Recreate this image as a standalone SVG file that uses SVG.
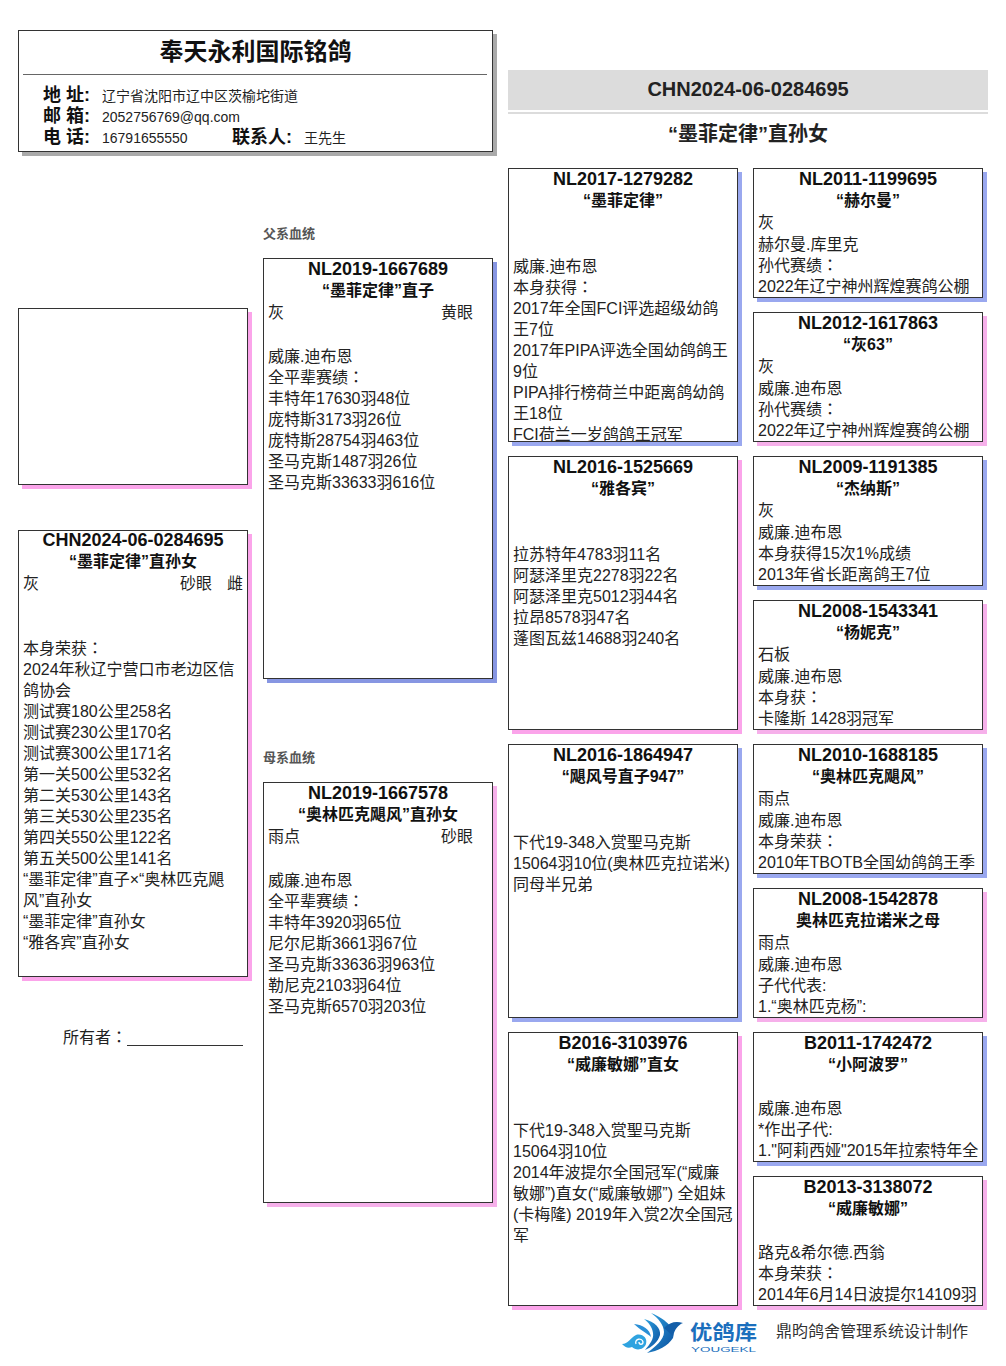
<svg xmlns="http://www.w3.org/2000/svg" width="1006" height="1366" viewBox="0 0 1006 1366">
<style>
text{font-family:"Liberation Sans","Noto Sans CJK SC",sans-serif;fill:#222}
.c{font-family:"Noto Sans CJK TC",sans-serif}
.box{fill:#fff;stroke:#333;stroke-width:1}
.blue{fill:#9aa8ef}.blue2{fill:#8796e2}.pink{fill:#f6b0ea}.pink2{fill:#fba4ea}.gray{fill:#aaa}
.id{font-size:18px;font-weight:700;text-anchor:middle;fill:#111}
.nm{font-size:16px;font-weight:700;text-anchor:middle;fill:#111}
.t{font-size:16px}
.lb{font-size:18px;font-weight:700;fill:#111}
.s{font-size:14px}
.sec{font-size:13px;font-weight:700;fill:#555}
</style>
<defs>
<clipPath id="c1"><rect x="509" y="169" width="228" height="272"/></clipPath>
<clipPath id="c2"><rect x="754" y="169" width="229" height="128"/></clipPath>
<clipPath id="c3"><rect x="754" y="313" width="229" height="128"/></clipPath>
<clipPath id="c4"><rect x="754" y="457" width="229" height="128"/></clipPath>
<clipPath id="c5"><rect x="754" y="601" width="229" height="128"/></clipPath>
<clipPath id="c6"><rect x="754" y="745" width="229" height="128"/></clipPath>
<clipPath id="c7"><rect x="754" y="889" width="229" height="128"/></clipPath>
<clipPath id="c8"><rect x="754" y="1033" width="229" height="128"/></clipPath>
<clipPath id="c9"><rect x="754" y="1177" width="229" height="128"/></clipPath>
<linearGradient id="lg" x1="0" y1="0" x2="1" y2="1"><stop offset="0" stop-color="#2fa3e0"/><stop offset="1" stop-color="#0b4f9e"/></linearGradient>
</defs>

<g id="header">
<rect class="gray" x="22" y="34" width="475" height="122"/>
<rect class="box" x="18.500" y="30.500" width="474" height="121"/>
<text x="255.500" y="60" text-anchor="middle" font-size="24" font-weight="700" style="fill:#111">奉天永利国际铭鸽</text>
<rect x="23" y="74" width="464" height="1" fill="#666"/>
<text class="lb" x="43" y="101">地 址:</text><text class="s" x="102" y="101">辽宁省沈阳市辽中区茨榆坨街道</text>
<text class="lb" x="43" y="122">邮 箱:</text><text class="s" x="102" y="122">2052756769@qq.com</text>
<text class="lb" x="43" y="143">电 话:</text><text class="s" x="102" y="143">16791655550</text>
<text class="lb" x="232" y="143">联系人:</text><text class="s" x="304" y="143">王先生</text>
</g>

<g id="banner">
<rect x="508" y="70" width="480" height="40" fill="#dcdcdc"/>
<rect x="508" y="112" width="480" height="2" fill="#dcdcdc"/>
<text x="748" y="96" text-anchor="middle" font-size="20" font-weight="700" style="fill:#222">CHN2024-06-0284695</text>
<text x="748" y="141" text-anchor="middle" font-size="20" font-weight="700" style="fill:#222">“墨菲定律”直孙女</text>
</g>

<g id="photo">
<rect class="pink2" x="22" y="312" width="230" height="177"/>
<rect class="box" x="18.500" y="308.500" width="229" height="176"/>
</g>

<g id="main">
<rect class="pink2" x="22" y="534" width="230" height="447"/>
<rect class="box" x="18.500" y="530.500" width="229" height="446"/>
<text class="id" x="133" y="546">CHN2024-06-0284695</text>
<text class="nm" x="133" y="567">“墨菲定律”直孙女</text>
<text class="t" x="23" y="589">灰</text><text class="t" x="180" y="589">砂眼</text><text class="t" x="227" y="589">雌</text>
<text class="t" x="23" y="654">本身荣获<tspan class="c">：</tspan></text>
<text class="t" x="23" y="675">2024年秋辽宁营口市老边区信</text>
<text class="t" x="23" y="696">鸽协会</text>
<text class="t" x="23" y="717">测试赛180公里258名</text>
<text class="t" x="23" y="738">测试赛230公里170名</text>
<text class="t" x="23" y="759">测试赛300公里171名</text>
<text class="t" x="23" y="780">第一关500公里532名</text>
<text class="t" x="23" y="801">第二关530公里143名</text>
<text class="t" x="23" y="822">第三关530公里235名</text>
<text class="t" x="23" y="843">第四关550公里122名</text>
<text class="t" x="23" y="864">第五关500公里141名</text>
<text class="t" x="23" y="885">“墨菲定律”直子×“奥林匹克飓</text>
<text class="t" x="23" y="906">风”直孙女</text>
<text class="t" x="23" y="927">“墨菲定律”直孙女</text>
<text class="t" x="23" y="948">“雅各宾”直孙女</text>
</g>

<g id="owner">
<text class="t" x="63" y="1043">所有者<tspan class="c">：</tspan></text>
<rect x="127" y="1045" width="116" height="1" fill="#333"/>
</g>

<text class="sec" x="263" y="238">父系血统</text>
<text class="sec" x="263" y="762">母系血统</text>

<g id="father">
<rect class="blue2" x="267" y="262" width="230" height="421"/>
<rect class="box" x="263.500" y="258.500" width="229" height="420"/>
<text class="id" x="378" y="275">NL2019-1667689</text>
<text class="nm" x="378" y="296">“墨菲定律”直子</text>
<text class="t" x="268" y="318">灰</text><text class="t" x="441" y="318">黄眼</text>
<text class="t" x="268" y="362">威廉.迪布恩</text>
<text class="t" x="268" y="383">全平辈赛绩<tspan class="c">：</tspan></text>
<text class="t" x="268" y="404">丰特年17630羽48位</text>
<text class="t" x="268" y="425">庞特斯3173羽26位</text>
<text class="t" x="268" y="446">庞特斯28754羽463位</text>
<text class="t" x="268" y="467">圣马克斯1487羽26位</text>
<text class="t" x="268" y="488">圣马克斯33633羽616位</text>
</g>

<g id="mother">
<rect class="pink" x="267" y="786" width="230" height="421"/>
<rect class="box" x="263.500" y="782.500" width="229" height="420"/>
<text class="id" x="378" y="799">NL2019-1667578</text>
<text class="nm" x="378" y="820">“奥林匹克飓风”直孙女</text>
<text class="t" x="268" y="842">雨点</text><text class="t" x="441" y="842">砂眼</text>
<text class="t" x="268" y="886">威廉.迪布恩</text>
<text class="t" x="268" y="907">全平辈赛绩<tspan class="c">：</tspan></text>
<text class="t" x="268" y="928">丰特年3920羽65位</text>
<text class="t" x="268" y="949">尼尔尼斯3661羽67位</text>
<text class="t" x="268" y="970">圣马克斯33636羽963位</text>
<text class="t" x="268" y="991">勒尼克2103羽64位</text>
<text class="t" x="268" y="1012">圣马克斯6570羽203位</text>
</g>

<g id="ff">
<rect class="blue" x="512" y="172" width="230" height="274"/>
<rect class="box" x="508.500" y="168.500" width="229" height="273"/>
<g clip-path="url(#c1)">
<text class="id" x="623" y="185">NL2017-1279282</text>
<text class="nm" x="623" y="206">“墨菲定律”</text>
<text class="t" x="513" y="272">威廉.迪布恩</text>
<text class="t" x="513" y="293">本身获得<tspan class="c">：</tspan></text>
<text class="t" x="513" y="314">2017年全国FCI评选超级幼鸽</text>
<text class="t" x="513" y="335">王7位</text>
<text class="t" x="513" y="356">2017年PIPA评选全国幼鸽鸽王</text>
<text class="t" x="513" y="377">9位</text>
<text class="t" x="513" y="398">PIPA排行榜荷兰中距离鸽幼鸽</text>
<text class="t" x="513" y="419">王18位</text>
<text class="t" x="513" y="440">FCI荷兰一岁鸽鸽王冠军</text>
</g></g>

<g id="fm">
<rect class="pink2" x="512" y="460" width="230" height="274"/>
<rect class="box" x="508.500" y="456.500" width="229" height="273"/>
<text class="id" x="623" y="473">NL2016-1525669</text>
<text class="nm" x="623" y="494">“雅各宾”</text>
<text class="t" x="513" y="560">拉苏特年4783羽11名</text>
<text class="t" x="513" y="581">阿瑟泽里克2278羽22名</text>
<text class="t" x="513" y="602">阿瑟泽里克5012羽44名</text>
<text class="t" x="513" y="623">拉昂8578羽47名</text>
<text class="t" x="513" y="644">蓬图瓦兹14688羽240名</text>
</g>

<g id="mf">
<rect class="blue" x="512" y="748" width="230" height="274"/>
<rect class="box" x="508.500" y="744.500" width="229" height="273"/>
<text class="id" x="623" y="761">NL2016-1864947</text>
<text class="nm" x="623" y="782">“飓风号直子947”</text>
<text class="t" x="513" y="848">下代19-348入赏聖马克斯</text>
<text class="t" x="513" y="869">15064羽10位(奥林匹克拉诺米)</text>
<text class="t" x="513" y="890">同母半兄弟</text>
</g>

<g id="mm">
<rect class="pink2" x="512" y="1036" width="230" height="274"/>
<rect class="box" x="508.500" y="1032.500" width="229" height="273"/>
<text class="id" x="623" y="1049">B2016-3103976</text>
<text class="nm" x="623" y="1070">“威廉敏娜”直女</text>
<text class="t" x="513" y="1136">下代19-348入赏聖马克斯</text>
<text class="t" x="513" y="1157">15064羽10位</text>
<text class="t" x="513" y="1178">2014年波提尔全国冠军(“威廉</text>
<text class="t" x="513" y="1199">敏娜”)直女(“威廉敏娜”) 全姐妹</text>
<text class="t" x="513" y="1220">(卡梅隆) 2019年入赏2次全国冠</text>
<text class="t" x="513" y="1241">军</text>
</g>

<g id="fff">
<rect class="blue" x="757" y="172" width="230" height="130"/>
<rect class="box" x="753.500" y="168.500" width="229" height="129"/>
<g clip-path="url(#c2)">
<text class="id" x="868" y="185">NL2011-1199695</text>
<text class="nm" x="868" y="206">“赫尔曼”</text>
<text class="t" x="758" y="228">灰</text>
<text class="t" x="758" y="250">赫尔曼.库里克</text>
<text class="t" x="758" y="271">孙代赛绩<tspan class="c">：</tspan></text>
<text class="t" x="758" y="292">2022年辽宁神州辉煌赛鸽公棚</text>
</g></g>

<g id="ffm">
<rect class="pink" x="757" y="316" width="230" height="130"/>
<rect class="box" x="753.500" y="312.500" width="229" height="129"/>
<g clip-path="url(#c3)">
<text class="id" x="868" y="329">NL2012-1617863</text>
<text class="nm" x="868" y="350">“灰63”</text>
<text class="t" x="758" y="372">灰</text>
<text class="t" x="758" y="394">威廉.迪布恩</text>
<text class="t" x="758" y="415">孙代赛绩<tspan class="c">：</tspan></text>
<text class="t" x="758" y="436">2022年辽宁神州辉煌赛鸽公棚</text>
</g></g>

<g id="fmf">
<rect class="blue" x="757" y="460" width="230" height="130"/>
<rect class="box" x="753.500" y="456.500" width="229" height="129"/>
<g clip-path="url(#c4)">
<text class="id" x="868" y="473">NL2009-1191385</text>
<text class="nm" x="868" y="494">“杰纳斯”</text>
<text class="t" x="758" y="516">灰</text>
<text class="t" x="758" y="538">威廉.迪布恩</text>
<text class="t" x="758" y="559">本身获得15次1%成绩</text>
<text class="t" x="758" y="580">2013年省长距离鸽王7位</text>
</g></g>

<g id="fmm">
<rect class="pink" x="757" y="604" width="230" height="130"/>
<rect class="box" x="753.500" y="600.500" width="229" height="129"/>
<g clip-path="url(#c5)">
<text class="id" x="868" y="617">NL2008-1543341</text>
<text class="nm" x="868" y="638">“杨妮克”</text>
<text class="t" x="758" y="660">石板</text>
<text class="t" x="758" y="682">威廉.迪布恩</text>
<text class="t" x="758" y="703">本身获<tspan class="c">：</tspan></text>
<text class="t" x="758" y="724">卡隆斯 1428羽冠军</text>
</g></g>

<g id="mff">
<rect class="blue" x="757" y="748" width="230" height="130"/>
<rect class="box" x="753.500" y="744.500" width="229" height="129"/>
<g clip-path="url(#c6)">
<text class="id" x="868" y="761">NL2010-1688185</text>
<text class="nm" x="868" y="782">“奥林匹克飓风”</text>
<text class="t" x="758" y="804">雨点</text>
<text class="t" x="758" y="826">威廉.迪布恩</text>
<text class="t" x="758" y="847">本身荣获<tspan class="c">：</tspan></text>
<text class="t" x="758" y="868">2010年TBOTB全国幼鸽鸽王季</text>
</g></g>

<g id="mfm">
<rect class="pink" x="757" y="892" width="230" height="130"/>
<rect class="box" x="753.500" y="888.500" width="229" height="129"/>
<g clip-path="url(#c7)">
<text class="id" x="868" y="905">NL2008-1542878</text>
<text class="nm" x="868" y="926">奥林匹克拉诺米之母</text>
<text class="t" x="758" y="948">雨点</text>
<text class="t" x="758" y="970">威廉.迪布恩</text>
<text class="t" x="758" y="991">子代代表:</text>
<text class="t" x="758" y="1012">1.“奥林匹克杨”:</text>
</g></g>

<g id="mmf">
<rect class="blue" x="757" y="1036" width="230" height="130"/>
<rect class="box" x="753.500" y="1032.500" width="229" height="129"/>
<g clip-path="url(#c8)">
<text class="id" x="868" y="1049">B2011-1742472</text>
<text class="nm" x="868" y="1070">“小阿波罗”</text>
<text class="t" x="758" y="1114">威廉.迪布恩</text>
<text class="t" x="758" y="1135">*作出子代:</text>
<text class="t" x="758" y="1156">1."阿莉西娅"2015年拉索特年全</text>
</g></g>

<g id="mmm">
<rect class="pink" x="757" y="1180" width="230" height="130"/>
<rect class="box" x="753.500" y="1176.500" width="229" height="129"/>
<g clip-path="url(#c9)">
<text class="id" x="868" y="1193">B2013-3138072</text>
<text class="nm" x="868" y="1214">“威廉敏娜”</text>
<text class="t" x="758" y="1258">路克&amp;希尔德.西翁</text>
<text class="t" x="758" y="1279">本身荣获<tspan class="c">：</tspan></text>
<text class="t" x="758" y="1300">2014年6月14日波提尔14109羽</text>
</g></g>

<g id="logo">
<path d="M651 1313 C668 1320 676 1330 673 1338 C668 1346 658 1351 647 1353 C655 1347 664 1340 664 1332 C664 1325 658 1318 651 1313Z" fill="url(#lg)"/>
<path d="M664 1328 C670 1322 676 1321 683 1323 C678 1325 675 1329 673 1336Z" fill="#135ea8"/>
<path d="M644 1319 C655 1322 661 1328 660 1335 C658 1342 652 1347 645 1350 C650 1344 654 1339 653 1333 C652 1327 649 1323 644 1319Z" fill="url(#lg)"/>
<path d="M634 1324 C643 1325 650 1329 651 1337 C647 1333 640 1330 634 1324Z" fill="#2a8fd6"/>
<path d="M622 1344 C628 1344 630 1338 636 1335 C642 1333 648 1338 646 1344 C644 1350 636 1351 632 1347 C628 1349 625 1347 622 1344Z" fill="#2fa3e0"/>
<path d="M636 1344 C634 1339 642 1337 643 1342 C643 1345 639 1345 639 1342" fill="none" stroke="#fff" stroke-width="1.300"/>
<text x="690" y="1340" font-size="20" font-weight="700" style="fill:#1b6fbd" textLength="67" lengthAdjust="spacingAndGlyphs">优鸽库</text>
<text x="691" y="1352" font-size="8" style="fill:#1b6fbd" textLength="65" lengthAdjust="spacingAndGlyphs">YOUGEKL</text>
<text x="776" y="1337" font-size="16" style="fill:#333">鼎昀鸽舍管理系统设计制作</text>
</g>
</svg>
